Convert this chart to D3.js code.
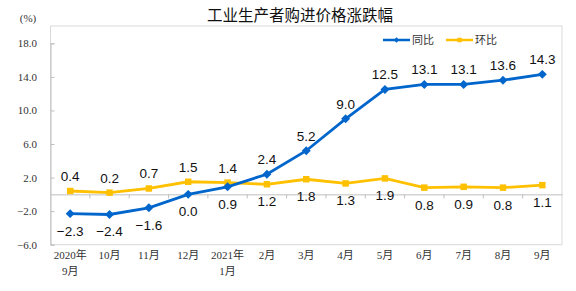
<!doctype html>
<html lang="zh">
  <head>
    <meta charset="UTF-8" />
    <title>工业生产者购进价格涨跌幅</title>
    <script src="https://d3js.org/d3.v7.min.js"></script>
    <style>
      body { margin: 0; background: #fff; }
      svg { display: block; }
      .tick-label { font-family: "Liberation Serif", "DejaVu Serif", "Noto Sans CJK SC", serif; font-size: 11px; fill: #333; }
      .value-label { font-family: "Liberation Sans", Arial, sans-serif; font-size: 13.5px; fill: #111; }
    </style>
  </head>
  <body>
    <div id="chart"></div>
    <script>
      // data
      const months = ['2020年|9月', '10月', '11月', '12月', '2021年|1月', '2月', '3月', '4月', '5月', '6月', '7月', '8月', '9月'];
      const yoy = [-2.3, -2.4, -1.6, 0.0, 0.9, 2.4, 5.2, 9.0, 12.5, 13.1, 13.1, 13.6, 14.3];
      const mom = [0.4, 0.2, 0.7, 1.5, 1.4, 1.2, 1.8, 1.3, 1.9, 0.8, 0.9, 0.8, 1.1];
      const yTicks = [-6, -2, 2, 6, 10, 14, 18];
      // label above (-1) or below (1) the point
      const yoySide = [1, 1, 1, 1, 1, -1, -1, -1, -1, -1, -1, -1, -1];
      const momSide = [-1, -1, -1, -1, -1, 1, 1, 1, 1, 1, 1, 1, 1];

      const W = 576, H = 291;
      const plot = { left: 50.5, right: 562, top: 26, bottom: 244.7 };
      const blue = '#0066cc', yellow = '#ffc000';

      const svg = d3.select('#chart').append('svg').attr('width', W).attr('height', H);

      const x = d3.scaleBand().domain(months).range([plot.left, plot.right]);
      const y = d3.scaleLinear().domain([-6, 18]).range([plot.bottom, 43.3]);
      const cx = (d) => x(d) + x.bandwidth() / 2;

      // title and unit
      svg.append('text')
        .attr('x', 300).attr('y', 21)
        .attr('text-anchor', 'middle')
        .style('font-family', '"Noto Sans CJK SC", sans-serif')
        .style('font-size', '15.5px')
        .style('fill', '#111')
        .text('工业生产者购进价格涨跌幅');
      svg.append('text')
        .attr('class', 'tick-label')
        .attr('x', 28).attr('y', 22)
        .attr('text-anchor', 'middle')
        .text('(%)');

      // frame
      svg.append('rect')
        .attr('x', plot.left).attr('y', plot.top)
        .attr('width', plot.right - plot.left).attr('height', plot.bottom - plot.top)
        .attr('fill', 'none').attr('stroke', '#d9d9d9');

      // y axis
      const yAxis = svg.append('g')
        .attr('transform', `translate(${plot.left},0)`)
        .call(d3.axisRight(y).tickValues(yTicks).tickSize(4).tickFormat(''));
      yAxis.select('.domain').attr('stroke', '#bfbfbf');
      yAxis.selectAll('line').attr('stroke', '#bfbfbf');
      svg.selectAll('.ylab').data(yTicks).enter().append('text')
        .attr('class', 'tick-label')
        .attr('x', 37).attr('y', (d) => y(d) + 4)
        .attr('text-anchor', 'end')
        .text((d) => d3.format('.1f')(d));

      // category axis along zero, ticks between categories
      const xAxis = svg.append('g')
        .attr('transform', `translate(0,${y(0)})`)
        .call(d3.axisBottom(x).tickSize(0).tickFormat(''));
      xAxis.select('.domain').attr('stroke', '#bfbfbf');
      xAxis.selectAll('.sep').data(months.slice(1)).enter().append('line')
        .attr('x1', (d) => x(d)).attr('x2', (d) => x(d))
        .attr('y1', 0).attr('y2', 4)
        .attr('stroke', '#bfbfbf');

      // month labels below the plot
      const mLab = svg.selectAll('.mlab').data(months).enter().append('text')
        .attr('class', 'tick-label')
        .attr('text-anchor', 'middle');
      mLab.each(function (d) {
        const parts = d.split('|');
        parts.forEach((p, i) => {
          d3.select(this).append('tspan')
            .attr('x', cx(d)).attr('y', 259 + i * 16)
            .text(p);
        });
      });

      const line = (vals) => d3.line().x((d, i) => cx(months[i])).y((d) => y(d))(vals);

      // 环比 series
      svg.append('path').attr('d', line(mom))
        .attr('fill', 'none').attr('stroke', yellow).attr('stroke-width', 2.8);
      svg.selectAll('.momPt').data(mom).enter().append('path')
        .attr('d', d3.symbol(d3.symbolSquare, 42))
        .attr('transform', (d, i) => `translate(${cx(months[i])},${y(d)})`)
        .attr('fill', yellow);

      // 同比 series
      svg.append('path').attr('d', line(yoy))
        .attr('fill', 'none').attr('stroke', blue).attr('stroke-width', 2.8);
      svg.selectAll('.yoyPt').data(yoy).enter().append('path')
        .attr('d', d3.symbol(d3.symbolSquare, 40))
        .attr('transform', (d, i) => `translate(${cx(months[i])},${y(d)}) rotate(45)`)
        .attr('fill', blue);

      // value labels
      const labels = (vals, side) => {
        svg.selectAll(null).data(vals).enter().append('text')
          .attr('class', 'value-label')
          .attr('text-anchor', 'middle')
          .attr('x', (d, i) => cx(months[i]))
          .attr('y', (d, i) => y(d) + (side[i] < 0 ? -10 : 22))
          .text((d) => d3.format('.1f')(d));
      };
      labels(yoy, yoySide);
      labels(mom, momSide);

      // legend
      const legend = [
        { name: '同比', color: blue, x: 383, diamond: true },
        { name: '环比', color: yellow, x: 446, diamond: false },
      ];
      legend.forEach((l) => {
        svg.append('line')
          .attr('x1', l.x).attr('x2', l.x + 27)
          .attr('y1', 40).attr('y2', 40)
          .attr('stroke', l.color).attr('stroke-width', 2.5);
        svg.append('path')
          .attr('d', d3.symbol(d3.symbolSquare, l.diamond ? 14 : 20))
          .attr('transform', `translate(${l.x + 13.5},40)` + (l.diamond ? ' rotate(45)' : ''))
          .attr('fill', l.color);
        svg.append('text')
          .attr('x', l.x + 29).attr('y', 44)
          .style('font-family', '"Noto Sans CJK SC", sans-serif')
          .style('font-size', '11px')
          .style('fill', '#333')
          .text(l.name);
      });
    </script>
  </body>
</html>
